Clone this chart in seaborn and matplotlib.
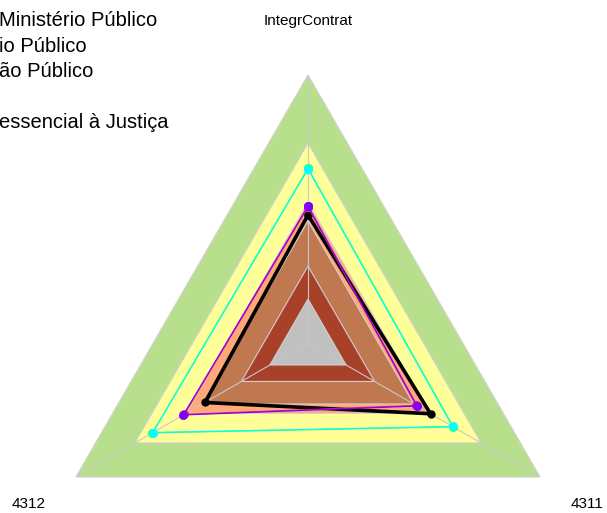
import numpy as np
import matplotlib
matplotlib.use("Agg")
import matplotlib.pyplot as plt
import seaborn as sns

# eixos do radar (sentido horário a partir do topo)
eixos = ["IntegrContrat", "4311", "4312"]

# faixas de referência (escala 0-100), de fora para dentro
faixas_lim = [100, 74.6, 52.5, 45.5, 28.7, 16.4]
faixas_cor = ["#B8E08C", "#FFFF99", "#FFA878", "#C07850", "#A8402A", "#C0C0C0"]

# séries
rotulos = ["Ministério Público", "io Público", "ão Público", " ", "essencial à Justiça"]
preto = [47.8, 52.8, 44.4]
roxo = [51.1, 47.0, 53.7]
vermelho = [50.8, 46.6, 53.3]
verde = [65.2, 62.6, 67.0]
ciano = [64.9, 62.3, 66.8]


def fechar(v):
    return list(v) + [v[0]]


def main():
    sns.set_theme(style="white")
    plt.rcParams["font.family"] = ["Liberation Sans", "DejaVu Sans"]
    plt.rcParams["text.color"] = "black"

    fig = plt.figure(figsize=(6.07, 5.13), dpi=100)
    ax = fig.add_axes([40 / 607, (513 - 611) / 513, 536 / 607, 536 / 513], projection="polar")
    ax.set_theta_offset(np.pi / 2)
    ax.set_theta_direction(-1)

    theta = np.arange(len(eixos)) * 2 * np.pi / len(eixos)
    theta_f = fechar(theta)
    theta_f[-1] = 2 * np.pi

    # faixas
    for lim, cor in zip(faixas_lim, faixas_cor):
        ax.fill(theta_f, [lim] * 4, color=cor, ec="#D0D0D0", lw=0.8, zorder=1)

    # raios
    for t in theta:
        ax.plot([t, t], [0, 100], color="#C8C8C8", lw=0.8, zorder=2)

    series = [
        (preto, "black", 2.6, 6, rotulos[0]),
        (vermelho, "#FF2050", 0.9, 6.5, rotulos[2]),
        (roxo, "#8000FF", 0.9, 6.5, rotulos[1]),
        (verde, "#40FF40", 0.9, 6.5, rotulos[3]),
        (ciano, "#00FFFF", 0.9, 6.5, rotulos[4]),
    ]
    handles = {}
    for vals, cor, lw, ms, lab in series:
        sns.lineplot(x=theta_f, y=fechar(vals), ax=ax, color=cor, lw=lw, marker="o",
                     markersize=ms, markeredgewidth=0, sort=False, estimator=None,
                     zorder=3, label=lab)
        handles[lab] = ax.get_lines()[-1]

    ax.set_ylim(0, 100)
    ax.grid(False)
    ax.set_xticks([])
    ax.set_yticks([])
    ax.spines["polar"].set_visible(False)
    ax.patch.set_alpha(0)

    for t, nome in zip(theta, eixos):
        ax.text(t, 120.3, nome, ha="center", va="center", fontsize=11, color="black")

    if ax.get_legend() is not None:
        ax.get_legend().remove()

    fig.legend([handles[r] for r in rotulos], rotulos, loc="upper left",
               bbox_to_anchor=(-57 / 607, (513 - 11.5) / 513), frameon=False,
               fontsize=14.5, borderpad=0, borderaxespad=0, handlelength=2,
               handletextpad=0.8, labelspacing=0.32, labelcolor="black")

    fig.savefig("out.png", dpi=100)
    plt.close(fig)


if __name__ == "__main__":
    main()
